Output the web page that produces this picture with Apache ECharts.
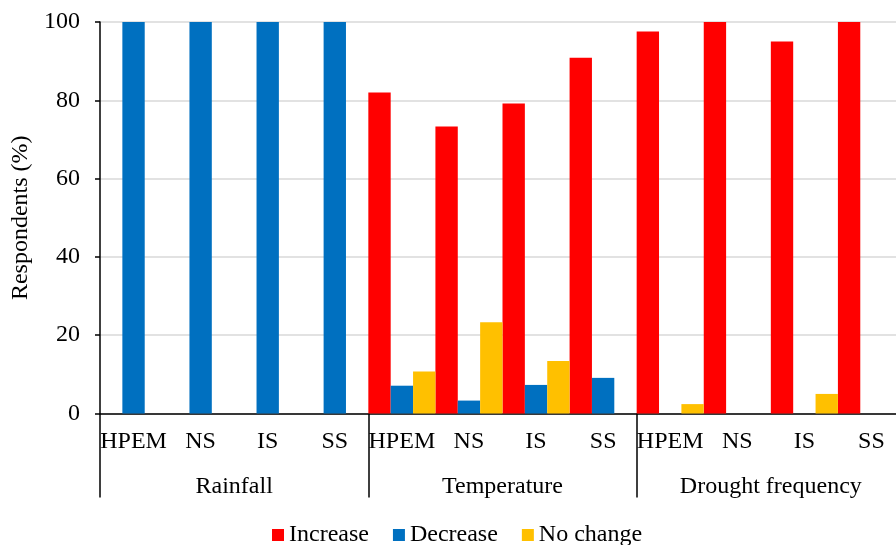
<!DOCTYPE html>
<html><head><meta charset="utf-8">
<script src="https://cdn.jsdelivr.net/npm/echarts@6/dist/echarts.min.js"></script>
<style>html,body{margin:0;padding:0;background:#fff}#c{width:896px;height:545px}</style>
</head><body><div id="c"></div>
<script>
const categories = ['HPEM','NS','IS','SS','HPEM','NS','IS','SS','HPEM','NS','IS','SS'];
const groups = ['Rainfall','Temperature','Drought frequency'];
const increase = [0,0,0,0, 82.0,73.3,79.2,90.9, 97.6,100,95.0,100];
const decrease = [100,100,100,100, 7.1,3.3,7.3,9.1, 0,0,0,0];
const noChange = [0,0,0,0, 10.7,23.3,13.4,0, 2.4,0,5.0,0];
const yTicks = {min:0, max:100, interval:20};

const font = 'Liberation Serif, Times New Roman, serif';
const fs = 24;
const chart = echarts.init(document.getElementById('c'));
chart.setOption({
  animation:false,
  textStyle:{fontFamily:font},
  grid:{left:100, right:-9, top:22, bottom:131.5, containLabel:false, outerBoundsMode:'none'},
  legend:{
    bottom:-7, left:267, itemWidth:12, itemHeight:12, itemGap:24,
    icon:'rect', textStyle:{fontFamily:font, fontSize:fs, color:'#000'},
    data:['Increase','Decrease','No change']
  },
  xAxis:[{
    type:'category', data:categories, position:'bottom',
    axisLine:{show:true, lineStyle:{color:'#000', width:1.5}},
    axisTick:{show:false},
    axisLabel:{interval:0, margin:16, fontFamily:font, fontSize:fs, color:'#000'},
    splitLine:{show:false}
  },{
    type:'category', data:groups, position:'bottom',
    axisLine:{show:false},
    axisTick:{show:true, length:84, inside:false, lineStyle:{color:'#000', width:1.5}},
    axisLabel:{interval:0, margin:61, fontFamily:font, fontSize:fs, color:'#000'},
    splitLine:{show:false}
  }],
  yAxis:{
    type:'value', min:yTicks.min, max:yTicks.max, interval:yTicks.interval,
    name:'Respondents (%)', nameLocation:'middle', nameGap:65,
    nameTextStyle:{fontFamily:font, fontSize:fs, color:'#000'},
    axisLine:{show:true, lineStyle:{color:'#000', width:1.5}},
    axisTick:{show:true, length:5, lineStyle:{color:'#000', width:1.5}},
    axisLabel:{margin:20, fontFamily:font, fontSize:fs, color:'#000'},
    splitLine:{show:true, lineStyle:{color:'#d9d9d9', width:1.5}}
  },
  series:[
    {name:'Increase', type:'bar', data:increase, itemStyle:{color:'#FF0000'}, barGap:'0%', barCategoryGap:'0%'},
    {name:'Decrease', type:'bar', data:decrease, itemStyle:{color:'#0070C0'}, barGap:'0%', barCategoryGap:'0%'},
    {name:'No change', type:'bar', data:noChange, itemStyle:{color:'#FFC000'}, barGap:'0%', barCategoryGap:'0%'}
  ]
});
</script></body></html>
